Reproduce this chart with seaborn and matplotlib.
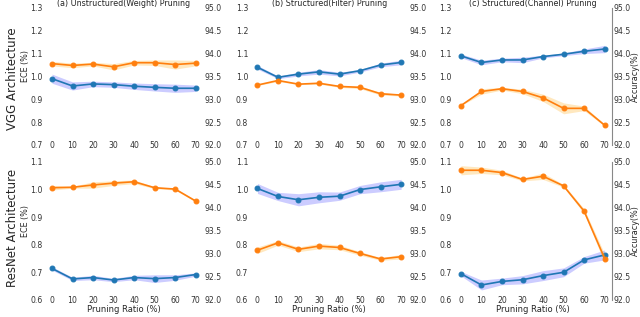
import numpy as np
import matplotlib
matplotlib.use("Agg")
from matplotlib import pyplot as plt
import seaborn as sns

# pruning ratios on the x axis
ratios = [0, 10, 20, 30, 40, 50, 60, 70]

titles = ["(a) Unstructured(Weight) Pruning",
          "(b) Structured(Filter) Pruning",
          "(c) Structured(Channel) Pruning"]
row_names = ["VGG Architecture", "ResNet Architecture"]

# VGG row: ECE (%) mean / spread
vgg_ece = [[0.990, 0.958, 0.967, 0.964, 0.957, 0.952, 0.948, 0.948],
           [1.040, 0.996, 1.010, 1.020, 1.010, 1.025, 1.050, 1.061],
           [1.090, 1.061, 1.072, 1.072, 1.087, 1.097, 1.110, 1.120]]
vgg_ece_sd = [[0.020, 0.018, 0.012, 0.012, 0.014, 0.016, 0.018, 0.014],
              [0.008, 0.006, 0.008, 0.010, 0.008, 0.006, 0.008, 0.010],
              [0.008, 0.010, 0.008, 0.012, 0.006, 0.006, 0.010, 0.016]]
# VGG row: accuracy (%) mean / spread
vgg_acc = [[93.78, 93.74, 93.77, 93.71, 93.80, 93.80, 93.76, 93.79],
           [93.31, 93.41, 93.33, 93.35, 93.28, 93.26, 93.12, 93.09],
           [92.86, 93.17, 93.23, 93.17, 93.03, 92.80, 92.80, 92.43]]
vgg_acc_sd = [[0.05, 0.05, 0.04, 0.07, 0.05, 0.06, 0.10, 0.06],
              [0.01, 0.02, 0.01, 0.02, 0.02, 0.03, 0.03, 0.02],
              [0.00, 0.06, 0.03, 0.05, 0.08, 0.12, 0.05, 0.02]]

# ResNet row
res_ece = [[0.714, 0.676, 0.681, 0.672, 0.681, 0.677, 0.681, 0.692],
           [1.004, 0.975, 0.963, 0.972, 0.976, 1.000, 1.010, 1.019],
           [0.695, 0.654, 0.667, 0.673, 0.688, 0.700, 0.745, 0.763]]
res_ece_sd = [[0.006, 0.006, 0.008, 0.006, 0.008, 0.014, 0.010, 0.006],
              [0.018, 0.015, 0.022, 0.020, 0.015, 0.015, 0.018, 0.018],
              [0.008, 0.018, 0.012, 0.015, 0.018, 0.016, 0.012, 0.018]]
res_acc = [[94.44, 94.45, 94.50, 94.54, 94.57, 94.44, 94.41, 94.15],
           [93.08, 93.24, 93.10, 93.17, 93.14, 93.01, 92.89, 92.94],
           [94.82, 94.82, 94.77, 94.62, 94.69, 94.48, 93.93, 92.90]]
res_acc_sd = [[0.05, 0.02, 0.07, 0.05, 0.04, 0.02, 0.02, 0.02],
              [0.07, 0.05, 0.05, 0.06, 0.05, 0.04, 0.03, 0.05],
              [0.10, 0.07, 0.05, 0.03, 0.07, 0.03, 0.05, 0.10]]

ece_rows = [vgg_ece, res_ece]
ece_sd_rows = [vgg_ece_sd, res_ece_sd]
acc_rows = [vgg_acc, res_acc]
acc_sd_rows = [vgg_acc_sd, res_acc_sd]
ece_lims = [(0.7, 1.3), (0.6, 1.1)]
ece_ticks = [[0.7, 0.8, 0.9, 1.0, 1.1, 1.2, 1.3], [0.6, 0.7, 0.8, 0.9, 1.0, 1.1]]
acc_ticks = [92.0, 92.5, 93.0, 93.5, 94.0, 94.5, 95.0]

sns.set_style("white")
plt.rcParams['font.family'] = ['DejaVu Sans']

fig = plt.figure(figsize=(6.4, 3.17), dpi=100)
lefts = [0.070, 0.391, 0.709]
bottoms = [0.543, 0.054]
heights = [0.432, 0.435]
w = 0.247

blue = '#1f77b4'
orange = '#ff7f0e'
x = np.array(ratios)

for r in range(2):
    for c in range(3):
        ax = fig.add_axes([lefts[c], bottoms[r], w, heights[r]])
        ax2 = ax.twinx()

        e = np.array(ece_rows[r][c])
        es = np.array(ece_sd_rows[r][c])
        a = np.array(acc_rows[r][c])
        s = np.array(acc_sd_rows[r][c])

        ax.fill_between(x, e - es, e + es, color='blue', alpha=0.2, linewidth=0)
        sns.lineplot(x=x, y=e, ax=ax, color=blue, marker='o', markersize=3.5,
                     markeredgecolor=blue, linewidth=1.2)
        ax2.fill_between(x, a - s, a + s, color='orange', alpha=0.25, linewidth=0)
        sns.lineplot(x=x, y=a, ax=ax2, color=orange, marker='o', markersize=3.5,
                     markeredgecolor=orange, linewidth=1.2)

        ax.set_ylim(*ece_lims[r])
        ax.set_yticks(ece_ticks[r])
        ax2.set_ylim(92.0, 95.0)
        ax2.set_yticks(acc_ticks)
        ax.set_xticks(ratios)

        for a_ in (ax, ax2):
            for sp in a_.spines.values():
                sp.set_visible(False)
        if c == 2:
            ax2.spines['right'].set_visible(True)
            ax2.spines['right'].set_color('#888888')
            ax2.spines['right'].set_linewidth(0.8)
            ax2.set_ylabel("Accuracy(%)", fontsize=5.8, labelpad=0)

        ax.tick_params(axis='y', length=0, pad=1.5, labelsize=5.6, colors='#333333')
        ax2.tick_params(axis='y', length=0, pad=1, labelsize=5.6, colors='#333333')
        ax.tick_params(axis='x', length=0, pad=-3, labelsize=5.6, colors='#333333')

        if c == 0:
            ax.set_ylabel("ECE (%)", fontsize=5.8)
            ax.yaxis.set_label_coords(-0.095, 0.575)
        else:
            ax.set_ylabel("")
        if r == 0:
            ax.set_title(titles[c], fontsize=5.8, pad=1)
            ax.set_xlabel("")
        else:
            ax.set_xlabel("Pruning Ratio (%)", fontsize=6, labelpad=0.5)

fig.text(0.019, 1 - 79 / 317, row_names[0], rotation=90, fontsize=8.5,
         ha='center', va='center')
fig.text(0.019, 1 - 228 / 317, row_names[1], rotation=90, fontsize=8.5,
         ha='center', va='center')

fig.savefig("out.png", dpi=100)
